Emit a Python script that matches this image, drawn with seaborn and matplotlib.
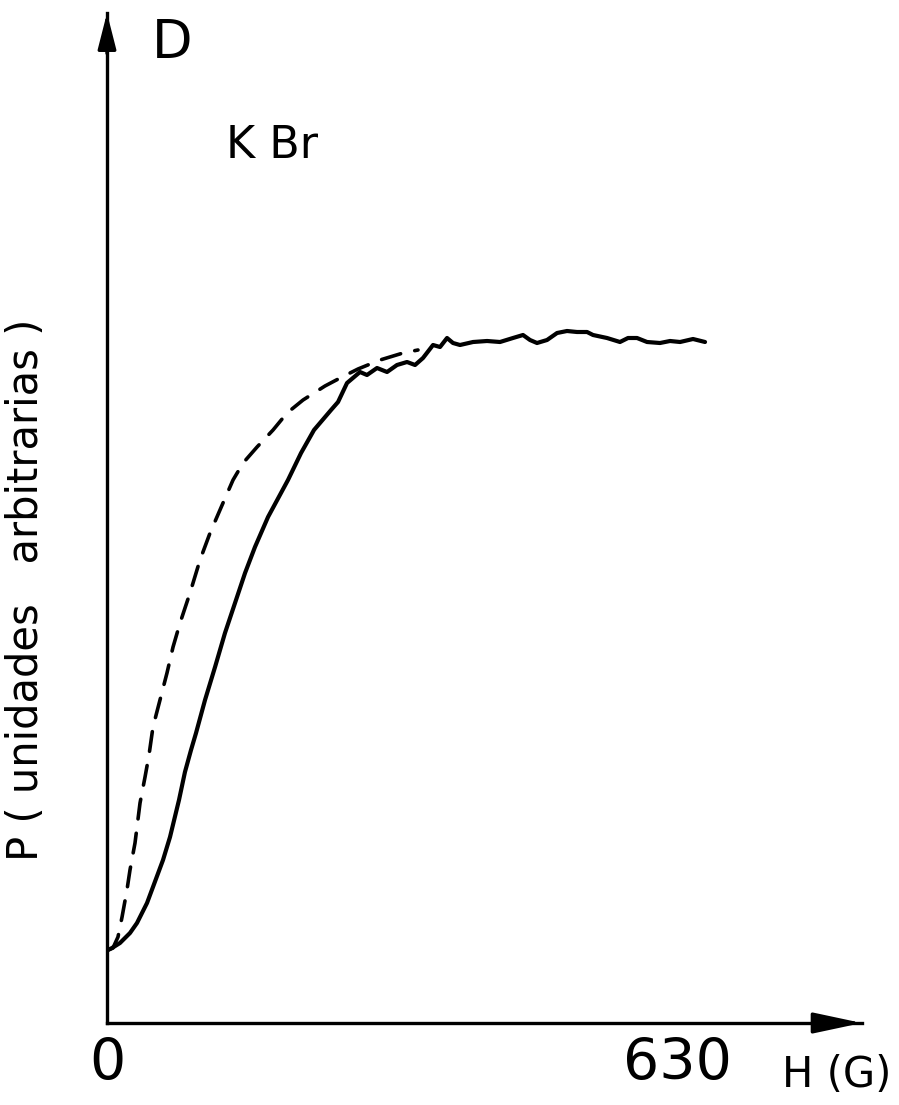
import matplotlib
matplotlib.use("Agg")
import matplotlib.pyplot as plt
import matplotlib.transforms as mtransforms
import seaborn as sns
import pandas as pd

# ---- data (field H in gauss, P in arbitrary units) ----
solid_h = [1.1, 5.3, 13.7, 24.3, 31.7, 42.3, 48.6, 59.2, 66.6, 76.1, 82.4, 88.8, 94.1,
           103.6, 114.2, 124.7, 135.3, 145.9, 156.4, 170.2, 191.3, 205.1, 218.8, 236.8,
           244.2, 253.7, 267.4, 274.8, 285.4, 296.0, 306.5, 317.1, 325.6,
           334.0, 344.6, 352.0, 359.4, 365.7, 373.1, 386.9, 401.7, 415.4, 429.1, 439.7,
           447.1, 454.5, 465.1, 475.7, 486.2, 496.8, 507.4, 513.7, 528.5, 542.2, 550.7,
           560.2, 570.8, 584.5, 595.1, 605.7, 619.4, 632.1]
solid_p = [0.73, 0.75, 0.80, 0.90, 1.00, 1.20, 1.36, 1.63, 1.86, 2.23, 2.51, 2.73, 2.90,
           3.23, 3.56, 3.90, 4.20, 4.50, 4.76, 5.06, 5.43, 5.70, 5.93, 6.13,
           6.21, 6.40, 6.51, 6.48, 6.55, 6.51, 6.58, 6.61, 6.58,
           6.65, 6.78, 6.76, 6.85, 6.80, 6.78, 6.81, 6.82, 6.81, 6.85, 6.88,
           6.83, 6.80, 6.83, 6.90, 6.92, 6.91, 6.91, 6.88, 6.85, 6.81, 6.85,
           6.85, 6.81, 6.80, 6.82, 6.81, 6.84, 6.81]

dashed_h = [1.1, 6.3, 11.6, 15.9, 21.1, 24.3, 29.6, 34.9, 40.2, 44.4, 48.6, 56.0, 63.4,
            69.8, 77.2, 87.7, 98.3, 108.9, 122.6, 133.2, 143.8, 158.6, 175.5, 190.3,
            207.2, 230.4, 248.4, 265.3, 288.6, 312.9, 328.7]
dashed_p = [0.73, 0.75, 0.86, 1.06, 1.33, 1.53, 1.80, 2.20, 2.46, 2.68, 2.96, 3.23, 3.50,
            3.76, 4.00, 4.30, 4.63, 4.90, 5.20, 5.43, 5.60, 5.76, 5.93, 6.10,
            6.23, 6.37, 6.46, 6.54, 6.63, 6.70, 6.73]

x_ticks = [0, 630]
x_ticklabels = ["0", "630"]
x_label = "H (G)"
y_label = "P ( unidades   arbitrarias )"
panel_label = "D"
sample_label = "K Br"

sns.set_theme(style="white")
plt.rcParams["font.family"] = ["DejaVu Sans"]
plt.rcParams["text.color"] = "black"

fig = plt.figure(figsize=(8.99, 11.05), dpi=100)
ax = fig.add_axes([107/899, 1 - 1023/1105, 755/899, 1010/1105])

df_s = pd.DataFrame({"H": solid_h, "P": solid_p})
df_d = pd.DataFrame({"H": dashed_h, "P": dashed_p})
sns.lineplot(data=df_s, x="H", y="P", ax=ax, color="black", lw=3.0,
             sort=False, estimator=None)
sns.lineplot(data=df_d, x="H", y="P", ax=ax, color="black", lw=2.6,
             sort=False, estimator=None)
ax.lines[-1].set_dashes([5.5, 4.0])
ax.lines[-1].set_dash_capstyle("round")
ax.lines[0].set_solid_capstyle("round")
ax.lines[0].set_solid_joinstyle("round")

ax.set_xlim(0, 798)
ax.set_ylim(0, 10.1)
sns.despine(ax=ax)
for s in ("left", "bottom"):
    ax.spines[s].set_linewidth(2.4)
    ax.spines[s].set_color("black")

ax.set_xticks(x_ticks)
ax.set_xticklabels(x_ticklabels, fontsize=41, color="black")
ax.tick_params(axis="x", direction="in", length=21, width=1.8, pad=10, colors="black")
ax.xaxis.get_major_ticks()[0].tick1line.set_visible(False)
lab630 = ax.get_xticklabels()[1]
lab630.set_transform(lab630.get_transform() +
                     mtransforms.ScaledTranslation(-26/100, 0, fig.dpi_scale_trans))
ax.set_yticks([])
ax.set_xlabel("")

ax.set_ylabel(y_label, fontsize=30, color="black")
ax.yaxis.set_label_coords(-0.080, 0.429)

# axis arrows
ax.annotate("", xy=(1.0, 0.0), xytext=(0.94, 0.0), xycoords="axes fraction",
            arrowprops=dict(arrowstyle="-|>,head_length=1.5,head_width=0.32",
                            mutation_scale=20, color="black", lw=2.4, shrinkA=0, shrinkB=0))
ax.annotate("", xy=(0.0, 1.0), xytext=(0.0, 0.96), xycoords="axes fraction",
            arrowprops=dict(arrowstyle="-|>,head_length=1.1,head_width=0.28",
                            mutation_scale=20, color="black", lw=2.4, shrinkA=0, shrinkB=0))

fig.text(172/899, 1 - 43/1105, panel_label, fontsize=38, ha="center", va="center")
fig.text(272/899, 1 - 145/1105, sample_label, fontsize=32, ha="center", va="center")
fig.text(837/899, 1 - 1075/1105, x_label, fontsize=30, ha="center", va="center")

fig.savefig("out.png", dpi=100)
